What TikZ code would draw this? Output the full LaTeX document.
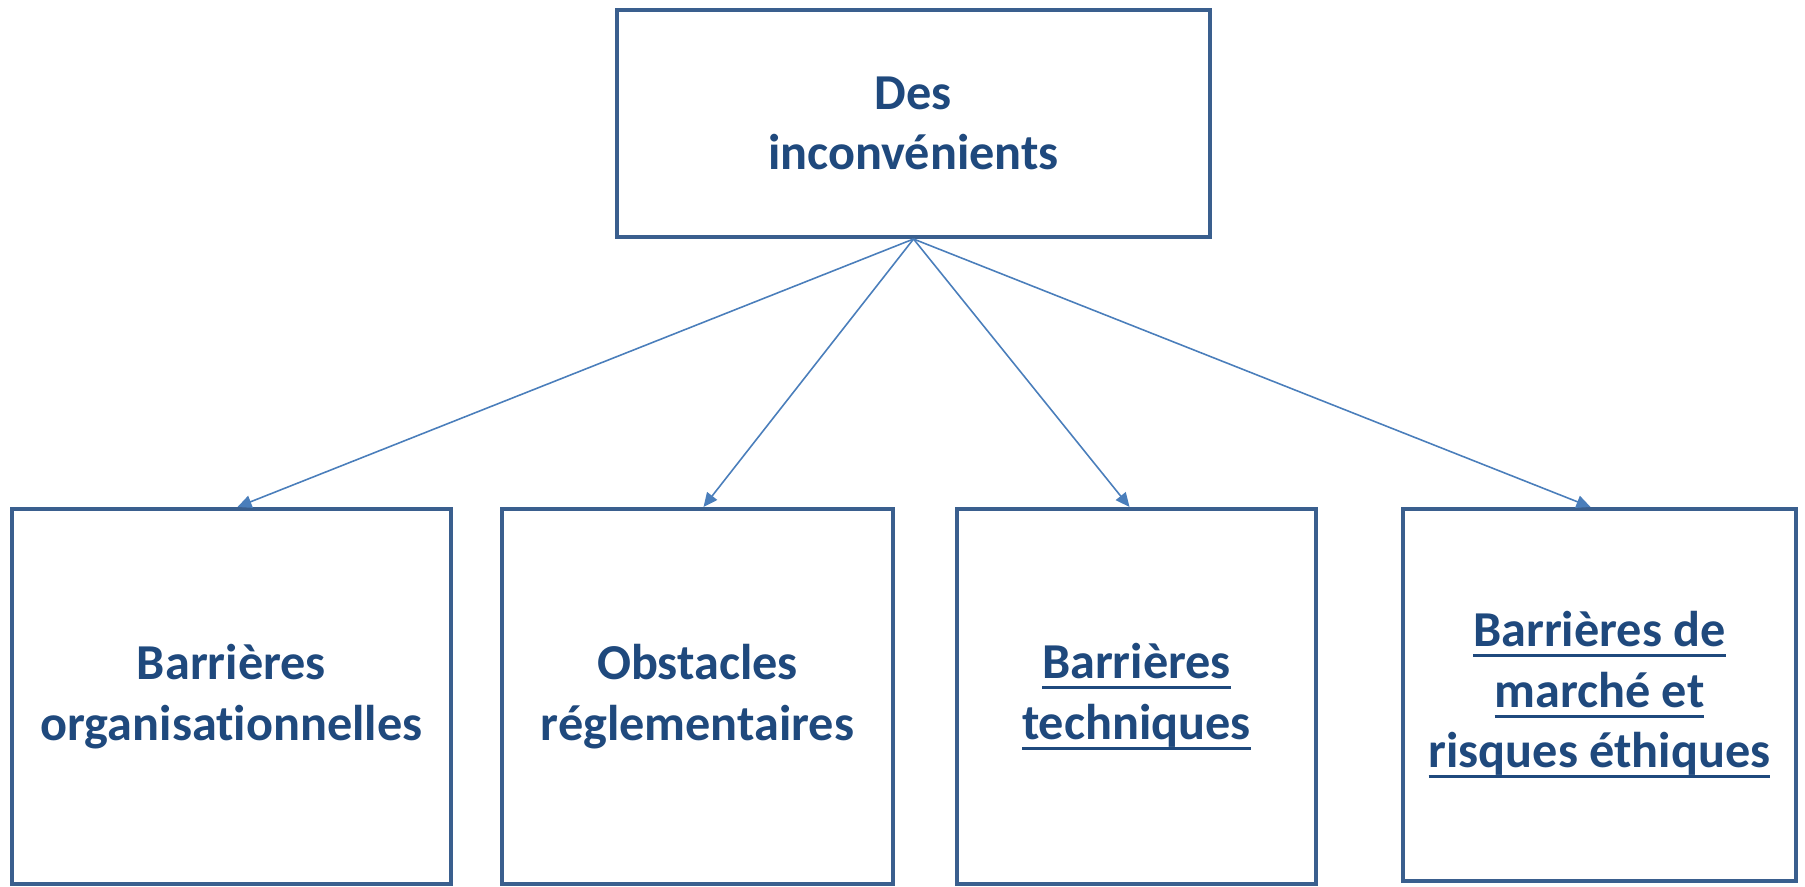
\documentclass[tikz,border=0pt]{standalone}
\usepackage{fontspec}
\setmainfont{Carlito}[Ligatures=NoCommon]
\usetikzlibrary{arrows.meta}
\definecolor{boxline}{HTML}{3A5F8E}
\definecolor{boxtext}{HTML}{1F497D}
\definecolor{linkline}{HTML}{4A7EBB}
\newlength{\ulwd}
\newcommand{\ulline}[1]{\settowidth{\ulwd}{#1}\rlap{\rule[-3pt]{\ulwd}{0.85pt}}#1}
\begin{document}
\begin{tikzpicture}[
  box/.style={shape=rectangle,draw=boxline,line width=1.15pt,fill=white,text=boxtext,
    align=center,inner sep=0pt,font=\fontsize{14.3}{17.2}\selectfont\bfseries},
  link/.style={draw=linkline,line width=0.45pt,-{Triangle[length=4pt,width=3.6pt]}}]
\useasboundingbox (0,0) rectangle (18.05,8.86);
\node[box,minimum width=5.93cm,minimum height=2.27cm] (top) at (9.135,7.625) {Des\\inconvénients};
\node[box,minimum width=4.39cm,minimum height=3.75cm] (b1) at (2.315,1.895) {Barrières\\organisationnelles};
\node[box,minimum width=3.91cm,minimum height=3.75cm] (b2) at (6.975,1.895) {Obstacles\\réglementaires};
\node[box,minimum width=3.59cm,minimum height=3.75cm] (b3) at (11.365,1.895) {\ulline{Barrières}\\\ulline{techniques}};
\node[box,minimum width=3.93cm,minimum height=3.72cm] (b4) at (15.995,1.91) {\ulline{Barrières de}\\\ulline{marché et}\\\ulline{risques éthiques}};

\path (top.south) edge[link] ([xshift=0.06cm]b1.north);
\path (top.south) edge[link] ([xshift=0.06cm]b2.north);
\path (top.south) edge[link] ([xshift=-0.07cm]b3.north);
\path (top.south) edge[link] ([xshift=-0.09cm]b4.north);
\end{tikzpicture}
\end{document}
